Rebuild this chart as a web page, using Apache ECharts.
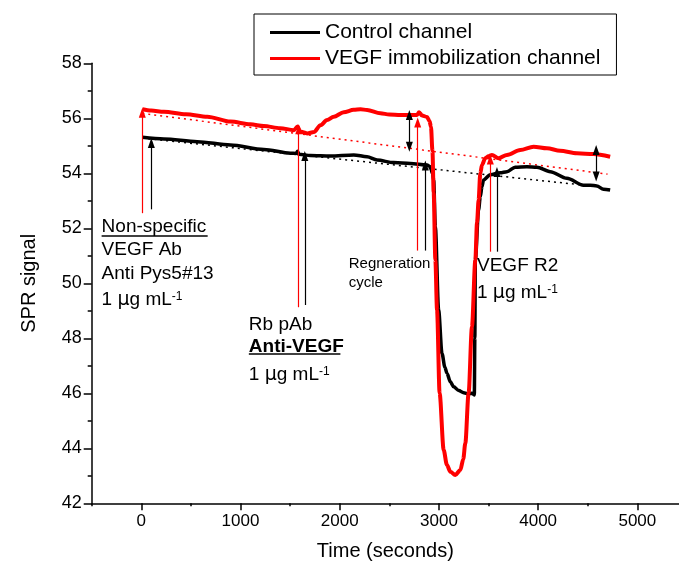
<!DOCTYPE html>
<html><head><meta charset="utf-8">
<script src="https://cdn.jsdelivr.net/npm/echarts@6/dist/echarts.min.js"></script>
<style>html,body{margin:0;padding:0;background:#fff}#c{width:679px;height:567px}</style>
</head><body><div id="c"></div>
<script>
// ---- data (time in seconds, SPR signal) ----
const controlData = [[10,55.31],[228,55.25],[564,55.15],[899,55.03],[1235,54.87],[1503,54.73],[1560,54.72],[1575,54.8],[1590,54.69],[1705,54.65],[1906,54.63],[2141,54.67],[2276,54.6],[2377,54.48],[2544,54.39],[2712,54.36],[2880,54.30],[2913,54.24],[2935,54.0],[2947,53.76],[2964,52.06],[2997,49.03],[3031,47.45],[3060,46.95],[3081,46.73],[3115,46.42],[3148,46.24],[3200,46.1],[3249,46.02],[3300,45.98],[3333,46.0],[3357,45.94],[3362,48.0],[3367,50.85],[3400,52.67],[3417,53.15],[3434,53.51],[3450,53.76],[3518,53.95],[3618,54.02],[3686,54.06],[3769,54.22],[3887,54.24],[3988,54.22],[4122,54.06],[4290,53.82],[4457,53.57],[4525,53.57],[4592,53.54],[4659,53.42],[4726,53.39]];
const vegfData = [[10,56.33],[100,56.28],[228,56.24],[450,56.15],[665,56.06],[899,55.88],[1100,55.78],[1235,55.72],[1400,55.64],[1537,55.57],[1575,55.7],[1600,55.52],[1672,55.45],[1740,55.5],[1806,55.75],[1873,55.94],[1940,56.06],[2040,56.22],[2141,56.31],[2210,56.33],[2276,56.30],[2410,56.18],[2500,56.14],[2611,56.12],[2779,56.12],[2800,56.22],[2830,56.1],[2880,56.05],[2905,55.9],[2920,55.69],[2935,54.8],[2947,53.3],[2964,50.85],[2981,49.03],[3007,46.0],[3048,43.94],[3080,43.4],[3115,43.15],[3165,43.03],[3216,43.21],[3245,43.6],[3266,44.18],[3299,46.0],[3333,48.42],[3367,50.85],[3384,52.2],[3400,53.03],[3417,54.0],[3434,54.3],[3467,54.55],[3500,54.62],[3535,54.67],[3601,54.55],[3686,54.67],[3820,54.85],[3954,54.97],[4089,54.91],[4222,54.82],[4391,54.73],[4558,54.70],[4726,54.6]];
const controlBaseline = [[10,55.28],[4460,53.57]];
const vegfBaseline = [[10,56.18],[4700,53.97]];
// arrows: [time, from value, to value]
const redArrows = [[10,52.55,56.2],[1587,49.13,55.6],[2786,51.19,55.85],[3518,51.15,54.5]];
const blackArrows = [[101,52.69,55.1],[1648,49.21,54.63],[2863,51.19,54.28],[3585,51.15,54.05]];
const doubleArrows = [[2702,54.97,56.12],[4585,53.88,54.85]];
// annotation text lines: [time, value, text]
const annotations = [
  [-400,52.06,'Non-specific'],
  [-400,51.21,'VEGF Ab'],
  [-400,50.36,'Anti Pys5#13'],
  [-400,49.39,'1 {mu|μ}g mL{sup|-1}'],
  [1084,48.48,'Rb pAb'],
  [1084,47.69,'{b|Anti-VEGF}'],
  [1084,46.67,'1 {mu|μ}g mL{sup|-1}'],
  [2091,50.70,'{s|Regneration}'],
  [2091,50.02,'{s|cycle}'],
  [3384,50.63,'VEGF R2'],
  [3384,49.64,'1 {mu|μ}g mL{sup|-1}']
];
const underlines = [[[-400,51.72],[669,51.72]],[[1084,47.43],[2007,47.43]]];
const xMajorTicks = [0,1000,2000,3000,4000,5000];
const xMinorTicks = [-500,500,1500,2500,3500,4500];
const yMin = 42, yMax = 58, yStep = 2;

const FONT = 'Liberation Sans, Arial, sans-serif';
const chart = echarts.init(document.getElementById('c'), null, {renderer:'canvas'});

function arrowLines(list, color, both) {
  return list.map(a => [
    {coord:[a[0],a[1]], symbol: both ? 'triangle' : 'none', lineStyle:{color:color,width:1.2,type:'solid'}},
    {coord:[a[0],a[2]], symbol:'triangle'}
  ]);
}

const series = [
  {name:'Control channel', type:'line', data:controlData, symbol:'none', smooth:0.3, smoothMonotone:'x',
   lineStyle:{color:'#000',width:3.5}, itemStyle:{color:'#000'}, z:3, silent:true},
  {name:'VEGF immobilization channel', type:'line', data:vegfData, symbol:'none', smooth:0.3, smoothMonotone:'x',
   lineStyle:{color:'#ff0000',width:4}, itemStyle:{color:'#ff0000'}, z:4, silent:true},
  {name:'cb', type:'line', data:controlBaseline, symbol:'none', lineStyle:{color:'#000',width:1.5,type:[2,4]}, z:2, silent:true},
  {name:'vb', type:'line', data:vegfBaseline, symbol:'none', lineStyle:{color:'#ff0000',width:1.5,type:[2,4]}, z:2, silent:true},
  {name:'arrows', type:'line', data:[], symbol:'none', silent:true, z:5,
   markLine:{silent:true, animation:false, symbolSize:[7,10], label:{show:false},
     data:[].concat(arrowLines(redArrows,'#ff0000',false), arrowLines(blackArrows,'#000',false), arrowLines(doubleArrows,'#000',true))}},
  {name:'text', type:'scatter', data:annotations, symbolSize:0, silent:true, z:6,
   itemStyle:{opacity:1},
   label:{show:true, position:'right', distance:0, color:'#000', opacity:1, fontFamily:FONT, fontSize:19,
     formatter: p => p.data[2],
     rich:{
       mu:{fontSize:19, fontFamily:'DejaVu Sans, '+FONT, color:'#000'},
       sup:{fontSize:12, verticalAlign:'top', color:'#000', fontFamily:FONT},
       b:{fontSize:19, fontWeight:'bold', color:'#000', fontFamily:FONT},
       s:{fontSize:15, color:'#000', fontFamily:FONT}
     }}}
];
underlines.forEach((u,i)=>series.push({name:'ul'+i, type:'line', data:u, symbol:'none', silent:true, lineStyle:{color:'#000',width:1.5}}));

chart.setOption({
  animation:false,
  backgroundColor:'#fff',
  textStyle:{fontFamily:FONT},
  legend:{
    data:['Control channel','VEGF immobilization channel'],
    orient:'vertical', left:254, top:14, padding:[8,16,6,16], itemGap:5,
    itemWidth:50, itemHeight:22, borderColor:'#000', borderWidth:1,
    textStyle:{fontSize:21, color:'#000', fontFamily:FONT},
    icon:'path://M0,9.5 L50,9.5 L50,12.5 L0,12.5 Z'
  },
  grid:{left:91.7, top:63.3, right:0, bottom:63.7},
  xAxis:[
    {type:'value', min:-500, max:5420, position:'bottom',
     axisLine:{show:true,onZero:false,lineStyle:{color:'#000',width:1.5}},
     axisTick:{show:true, customValues:xMajorTicks, length:7, lineStyle:{color:'#000',width:1.5}},
     axisLabel:{customValues:xMajorTicks, fontSize:17, color:'#000', margin:10, fontFamily:FONT, formatter: v => String(v)},
     splitLine:{show:false},
     name:'Time (seconds)', nameLocation:'middle', nameGap:38,
     nameTextStyle:{fontSize:20, color:'#000', fontFamily:FONT}},
    {type:'value', min:-500, max:5420, position:'bottom',
     axisLine:{show:false,onZero:false},
     axisTick:{show:true, customValues:xMinorTicks, length:3, lineStyle:{color:'#000',width:1.5}},
     axisLabel:{show:false}, splitLine:{show:false}}
  ],
  yAxis:{type:'value', min:yMin, max:yMax, interval:yStep,
    axisLine:{show:true,onZero:false,lineStyle:{color:'#000',width:1.5}},
    axisTick:{show:true,length:8,lineStyle:{color:'#000',width:1.5}},
    minorTick:{show:true,splitNumber:2,length:4,lineStyle:{color:'#000',width:1.5}},
    axisLabel:{fontSize:18,color:'#000',margin:10,fontFamily:FONT, formatter: v => String(v)},
    splitLine:{show:false},
    name:'SPR signal', nameLocation:'middle', nameGap:52, nameRotate:90,
    nameTextStyle:{fontSize:20,color:'#000',fontFamily:FONT}},
  series:series
});
</script></body></html>
